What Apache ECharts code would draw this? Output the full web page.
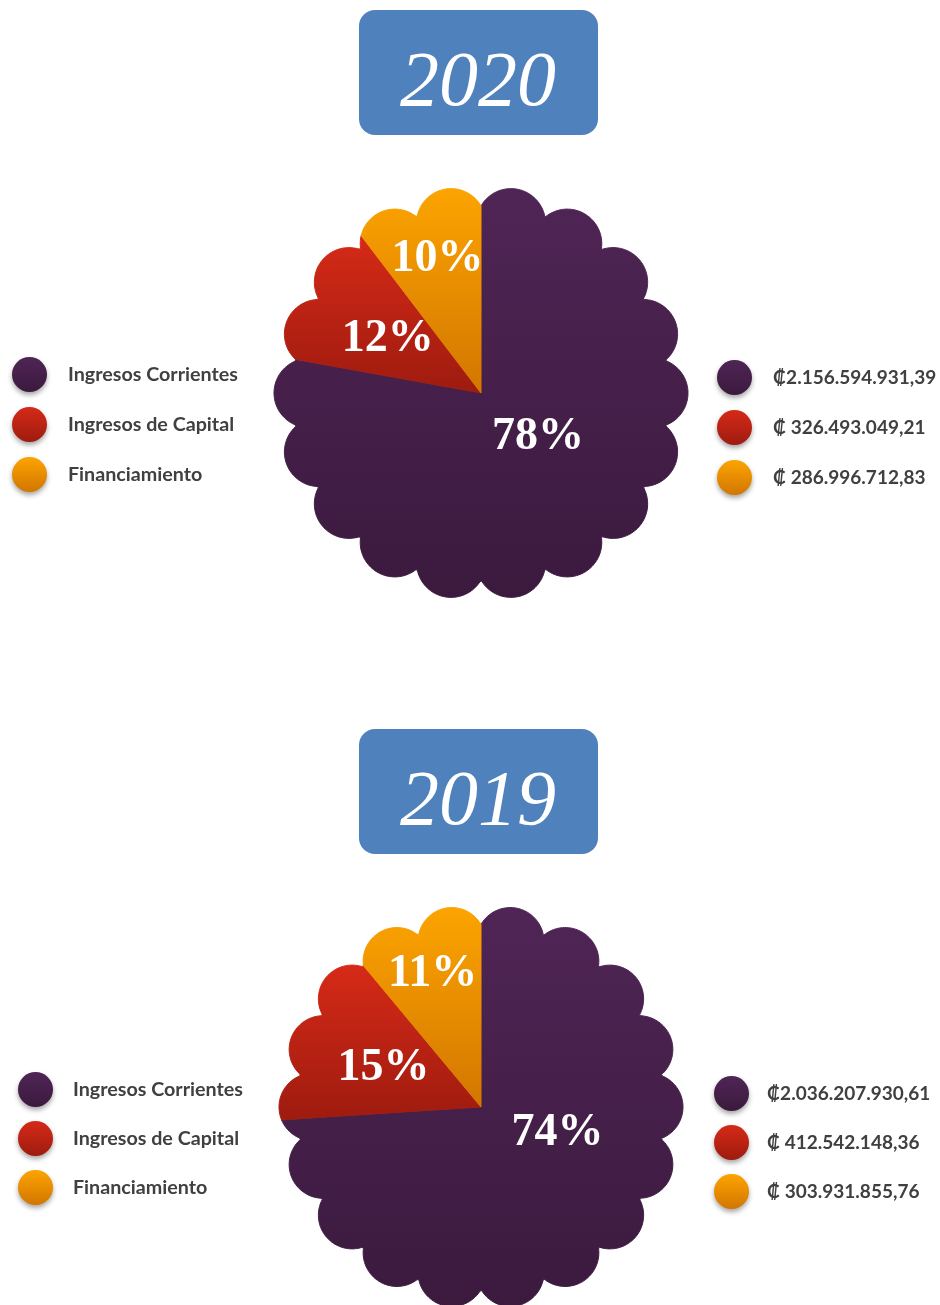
<!DOCTYPE html>
<html>
<head>
<meta charset="utf-8">
<script src="https://cdn.jsdelivr.net/npm/echarts@6/dist/echarts.min.js"></script>
<style>
  html, body { margin: 0; padding: 0; background: #fff; }
  #chart { width: 940px; height: 1305px; }
</style>
</head>
<body>
<div id="chart"></div>
<script>
// datos
var categories = ['Ingresos Corrientes', 'Ingresos de Capital', 'Financiamiento'];
var years = ['2020', '2019'];
var values2020 = [2156594931.39, 326493049.21, 286996712.83];
var values2019 = [2036207930.61, 412542148.36, 303931855.76];
var valueLabels2020 = ['\u20A12.156.594.931,39', '\u20A1 326.493.049,21', '\u20A1 286.996.712,83'];
var valueLabels2019 = ['\u20A12.036.207.930,61', '\u20A1 412.542.148,36', '\u20A1 303.931.855,76'];

// colores (arriba -> abajo)
var colors = [
  ['#4f2555', '#3b1a3e'],
  ['#d62a17', '#9e1b0f'],
  ['#fca400', '#d27600']
];

// layout de cada torta
var pies = [
  { values: values2020, texts: valueLabels2020, center: [481, 393], radius: 207, boxY: 10,
    labels: [[0.35, 128], [0.52, 300], [0.68, 342]],
    legendL: { left: 12, top: 357, gap: 15, pad: 16 }, legendR: { left: 717, top: 360, gap: 15, pad: 16 } },
  { values: values2019, texts: valueLabels2019, center: [481, 1107], radius: 202, boxY: 729,
    labels: [[0.40, 109], [0.52, 292], [0.70, 340]],
    legendL: { left: 18, top: 1072, gap: 14, pad: 15 }, legendR: { left: 714, top: 1076, gap: 14, pad: 13 } }
];

// forma de flor (radio normalizado, pico = 1)
var BUMPS = 18, BUMP_DIST = 0.833, BUMP_R = 0.167, CORE = 0.85;
function flowerRadius(deg) {
  var r = CORE;
  for (var k = 0; k < BUMPS; k++) {
    var c = (k + 0.5) * 360 / BUMPS;
    var d = (deg - c) * Math.PI / 180;
    var p = BUMP_DIST * Math.cos(d);
    var q = BUMP_DIST * Math.sin(d);
    if (p > 0 && Math.abs(q) < BUMP_R) {
      var t = p + Math.sqrt(BUMP_R * BUMP_R - q * q);
      if (t > r) r = t;
    }
  }
  return r;
}

function grad(i) {
  return new echarts.graphic.LinearGradient(0, 0, 0, 1, [
    { offset: 0, color: colors[i][0] },
    { offset: 1, color: colors[i][1] }
  ]);
}

function sum(arr) { return arr.reduce(function (a, b) { return a + b; }, 0); }

function makeSlice(pi, i) {
  var pie = pies[pi];
  var vals = pie.values;
  var total = sum(vals);
  var start = sum(vals.slice(0, i));
  var end = start + vals[i];
  return {
    type: 'custom',
    name: categories[i],
    coordinateSystem: 'polar',
    polarIndex: pi,
    itemStyle: { color: grad(i) },
    data: [[start, end]],
    renderItem: function (params, api) {
      var a0 = api.value(0), a1 = api.value(1);
      var steps = Math.max(8, Math.ceil((a1 - a0) / total * 720));
      var pts = [api.coord([0, a0])];
      for (var s = 0; s <= steps; s++) {
        var v = a0 + (a1 - a0) * s / steps;
        pts.push(api.coord([flowerRadius(v / total * 360), v]));
      }
      var lab = pie.labels[i];
      var lp = api.coord([lab[0], lab[1] / 360 * total]);
      return {
        type: 'group',
        children: [
          { type: 'polygon', shape: { points: pts }, style: { fill: grad(i), stroke: grad(i), lineWidth: 1 } },
          { type: 'text', x: lp[0], y: lp[1], z2: 10,
            style: { text: Math.round(vals[i] / total * 100) + '%', fill: '#fff',
              font: 'bold 46px "Liberation Serif"', align: 'center', verticalAlign: 'middle' } }
        ]
      };
    }
  };
}

function makeLegend(cfg, formatter, size) {
  return {
    orient: 'vertical',
    left: cfg.left,
    top: cfg.top,
    padding: 0,
    icon: 'circle',
    itemWidth: 35,
    itemHeight: 35,
    itemGap: cfg.gap,
    selectedMode: false,
    data: categories,
    formatter: formatter,
    itemStyle: { shadowBlur: 5, shadowOffsetY: 3, shadowColor: 'rgba(0,0,0,0.35)' },
    textStyle: { fontFamily: 'Lato', fontWeight: 'bold', fontSize: size, color: '#404040', padding: [0, 0, 0, cfg.pad] }
  };
}

var polar = [], angleAxis = [], radiusAxis = [], series = [], legend = [], graphic = [];
pies.forEach(function (pie, pi) {
  polar.push({ center: pie.center, radius: pie.radius });
  angleAxis.push({ polarIndex: pi, type: 'value', min: 0, max: sum(pie.values), startAngle: 90, clockwise: true, show: false });
  radiusAxis.push({ polarIndex: pi, type: 'value', min: 0, max: 1, show: false });
  for (var i = 0; i < categories.length; i++) series.push(makeSlice(pi, i));
  legend.push(makeLegend(pie.legendL, function (name) { return name; }, 19.7));
  legend.push(makeLegend(pie.legendR, function (name) { return pie.texts[categories.indexOf(name)]; }, 19));
  // caja del año
  graphic.push({ type: 'rect', shape: { x: 359, y: pie.boxY, width: 239, height: 125, r: 16 },
    style: { fill: '#4f81bd' } });
  graphic.push({ type: 'text', x: 478, y: pie.boxY + 74,
    style: { text: years[pi], font: 'italic 78px "Liberation Serif"', fill: '#fff', align: 'center', verticalAlign: 'middle' } });
});

var myChart = echarts.init(document.getElementById('chart'));
myChart.setOption({
  backgroundColor: '#fff',
  animation: false,
  polar: polar,
  angleAxis: angleAxis,
  radiusAxis: radiusAxis,
  legend: legend,
  graphic: graphic,
  series: series
});
</script>
</body>
</html>
